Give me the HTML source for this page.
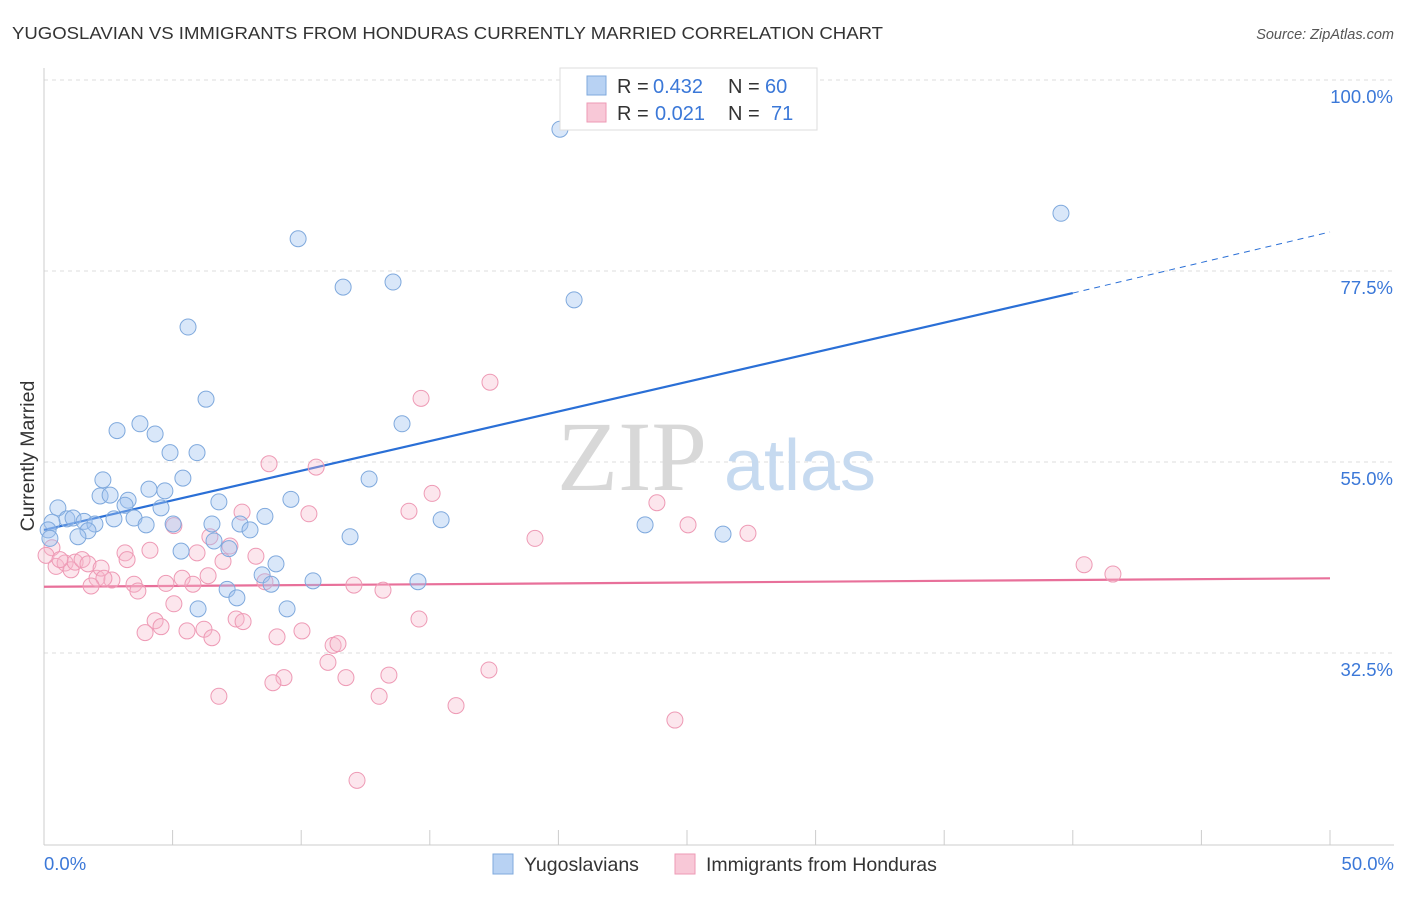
<!DOCTYPE html>
<html><head><meta charset="utf-8"><style>
body{margin:0;background:#fff;font-family:"Liberation Sans",sans-serif;}
</style></head><body>
<svg width="1406" height="892" viewBox="0 0 1406 892" xmlns="http://www.w3.org/2000/svg" font-family="Liberation Sans, sans-serif">
<text x="12" y="39" font-size="17.5" fill="#333" textLength="871" lengthAdjust="spacingAndGlyphs">YUGOSLAVIAN VS IMMIGRANTS FROM HONDURAS CURRENTLY MARRIED CORRELATION CHART</text>
<text x="1394" y="39" font-size="14.5" fill="#555" font-style="italic" text-anchor="end">Source: ZipAtlas.com</text>
<g id="grid"></g>
<g>
<text x="632" y="490" font-size="100" font-family="Liberation Serif, serif" fill="#d8d8d8" text-anchor="middle">ZIP</text>
<text x="800" y="490" font-size="72" fill="#c6daf0" text-anchor="middle">atlas</text>
</g>
<line x1="44" y1="68" x2="44" y2="845" stroke="#ccc"/>
<line x1="44" y1="845" x2="1394" y2="845" stroke="#ccc"/>
<g id="ticks"></g>
<g id="lines"></g>
<g id="pts"></g>
<text transform="translate(34,456) rotate(-90)" font-size="19.5" fill="#333" text-anchor="middle">Currently Married</text>
<text x="44" y="870" font-size="18.5" fill="#3b78d8">0.0%</text>
<text x="1394" y="870" font-size="18.5" fill="#3b78d8" text-anchor="end">50.0%</text>
<g>
<rect x="560" y="68" width="257" height="62" fill="#fff" stroke="#ddd"/>
<rect x="587" y="76" width="19" height="19" fill="#b8d2f3" stroke="#7fa9dd"/>
<rect x="587" y="103" width="19" height="19" fill="#f8c8d7" stroke="#ee9ab5"/>
<text x="617" y="93" font-size="20" fill="#333">R =</text>
<text x="653" y="93" font-size="20" fill="#3b78d8">0.432</text>
<text x="728" y="93" font-size="20" fill="#333">N =</text>
<text x="765" y="93" font-size="20" fill="#3b78d8">60</text>
<text x="617" y="120" font-size="20" fill="#333">R =</text>
<text x="655" y="120" font-size="20" fill="#3b78d8">0.021</text>
<text x="728" y="120" font-size="20" fill="#333">N =</text>
<text x="771" y="120" font-size="20" fill="#3b78d8">71</text>
</g>
<g>
<rect x="493" y="854" width="20" height="20" fill="#b8d2f3" stroke="#7fa9dd"/>
<text x="524" y="871" font-size="19.5" fill="#333">Yugoslavians</text>
<rect x="675" y="854" width="20" height="20" fill="#f8c8d7" stroke="#ee9ab5"/>
<text x="706" y="871" font-size="19.5" fill="#333">Immigrants from Honduras</text>
</g>
</svg>
<script>
const yTicks=[100,77.5,55,32.5];
const yTickLabels=["100.0%","77.5%","55.0%","32.5%"];
const xTicks=[0,5,10,15,20,25,30,35,40,45,50];
const blueX=[20.06,39.54,9.88,11.63,13.57,20.61,5.6,6.3,13.92,3.73,2.84,4.32,4.9,5.95,2.29,5.4,12.64,4.08,4.7,2.18,2.57,3.27,9.6,6.8,3.15,0.54,4.55,8.59,15.44,0.89,1.13,1.56,2.72,3.5,0.31,1.98,3.97,5.02,6.53,7.62,8.01,1.71,23.37,26.4,1.32,11.9,6.61,7.19,5.33,9.02,8.48,8.83,10.46,14.54,7.12,7.5,5.99,9.45,0.16,0.23];
const blueY=[94.2,84.3,81.3,75.6,76.2,74.1,70.9,62.4,59.5,59.5,58.7,58.3,56.1,56.1,52.9,53.1,53.0,51.8,51.6,51.0,51.1,50.5,50.6,50.3,49.9,49.6,49.6,48.6,48.2,48.3,48.4,48.0,48.3,48.4,47.9,47.7,47.6,47.7,47.7,47.7,47.0,46.9,47.6,46.5,46.2,46.2,45.7,44.8,44.5,43.0,41.7,40.6,41.0,40.9,40.0,39.0,37.7,37.7,47.0,46.0];
const pinkX=[17.34,14.66,8.75,10.58,15.09,23.83,10.3,14.19,25.04,27.37,19.09,5.05,7.7,7.23,5.95,4.12,3.15,3.23,0.31,0.47,0.82,1.05,1.21,1.48,1.71,2.06,2.22,2.64,2.33,1.83,3.5,3.65,4.74,5.37,5.79,6.38,6.96,8.24,8.59,12.05,13.18,40.44,41.56,5.05,4.32,4.55,3.93,5.56,6.22,6.53,7.47,7.74,9.06,10.03,11.24,11.43,11.04,13.41,11.74,9.33,8.9,6.8,13.03,16.02,17.3,14.58,24.53,12.17,0.08,0.62,6.45];
const pinkY=[64.4,62.5,54.8,54.4,51.3,50.2,48.9,49.2,47.6,46.6,46.0,47.5,49.1,45.1,44.3,44.6,44.3,43.5,44.9,42.7,43.1,42.3,43.2,43.5,43.0,41.3,42.5,41.1,41.3,40.4,40.6,39.8,40.7,41.3,40.6,41.6,43.3,43.9,40.9,40.5,39.9,42.9,41.8,38.3,36.3,35.6,34.9,35.1,35.3,34.3,36.5,36.2,34.4,35.1,33.4,33.6,31.4,29.9,29.6,29.6,29.0,27.4,27.4,26.3,30.5,36.5,24.6,17.5,44.0,43.5,46.2];
const blueTrendX=[0,40,50];
const blueTrendY=[47.0,74.9,82.1];
const pinkTrendX=[0,50];
const pinkTrendY=[40.3,41.3];
const NS="http://www.w3.org/2000/svg";
function xs(v){return 44+v/50*1286;}
function ys(v){return 80+(100-v)*191/22.5;}
function mk(t,a,p){const e=document.createElementNS(NS,t);for(const k in a)e.setAttribute(k,a[k]);document.getElementById(p).appendChild(e);return e;}
yTicks.forEach((t,i)=>{
 const l=mk('line',{x1:44,x2:1394,y1:ys(t),y2:ys(t),stroke:'#ddd','stroke-dasharray':'4,4'},'grid');
 
 
 const tx=mk('text',{x:1393,y:ys(t)+23,'font-size':18.5,fill:'#3b78d8','text-anchor':'end'},'grid');
 tx.textContent=yTickLabels[i];
 
 
});
xTicks.forEach(t=>{
 const l=mk('line',{x1:xs(t),x2:xs(t),y1:830,y2:845,stroke:'#ccc'},'ticks');
 
 
});
function pts(X,Y,fill,stroke,name){
 X.forEach((x,i)=>{
  const c=mk('circle',{cx:xs(x),cy:ys(Y[i]),r:8,fill:fill,stroke:stroke,'stroke-width':1},'pts');
  
  
 });
}
pts(pinkX,pinkY,'rgba(246,182,202,0.35)','#ee9ab5','honduras-point');
pts(blueX,blueY,'rgba(160,196,240,0.4)','#7fa9dd','yugoslavian-point');
const b1=mk('line',{x1:xs(blueTrendX[0]),y1:ys(blueTrendY[0]),x2:xs(blueTrendX[1]),y2:ys(blueTrendY[1]),stroke:'#2a6fd6','stroke-width':2.2},'lines');


const b2=mk('line',{x1:xs(blueTrendX[1]),y1:ys(blueTrendY[1]),x2:xs(blueTrendX[2]),y2:ys(blueTrendY[2]),stroke:'#2a6fd6','stroke-width':1,'stroke-dasharray':'6,5'},'lines');


const p1=mk('line',{x1:xs(pinkTrendX[0]),y1:ys(pinkTrendY[0]),x2:xs(pinkTrendX[1]),y2:ys(pinkTrendY[1]),stroke:'#e8709a','stroke-width':2.2},'lines');


</script>
</body></html>
